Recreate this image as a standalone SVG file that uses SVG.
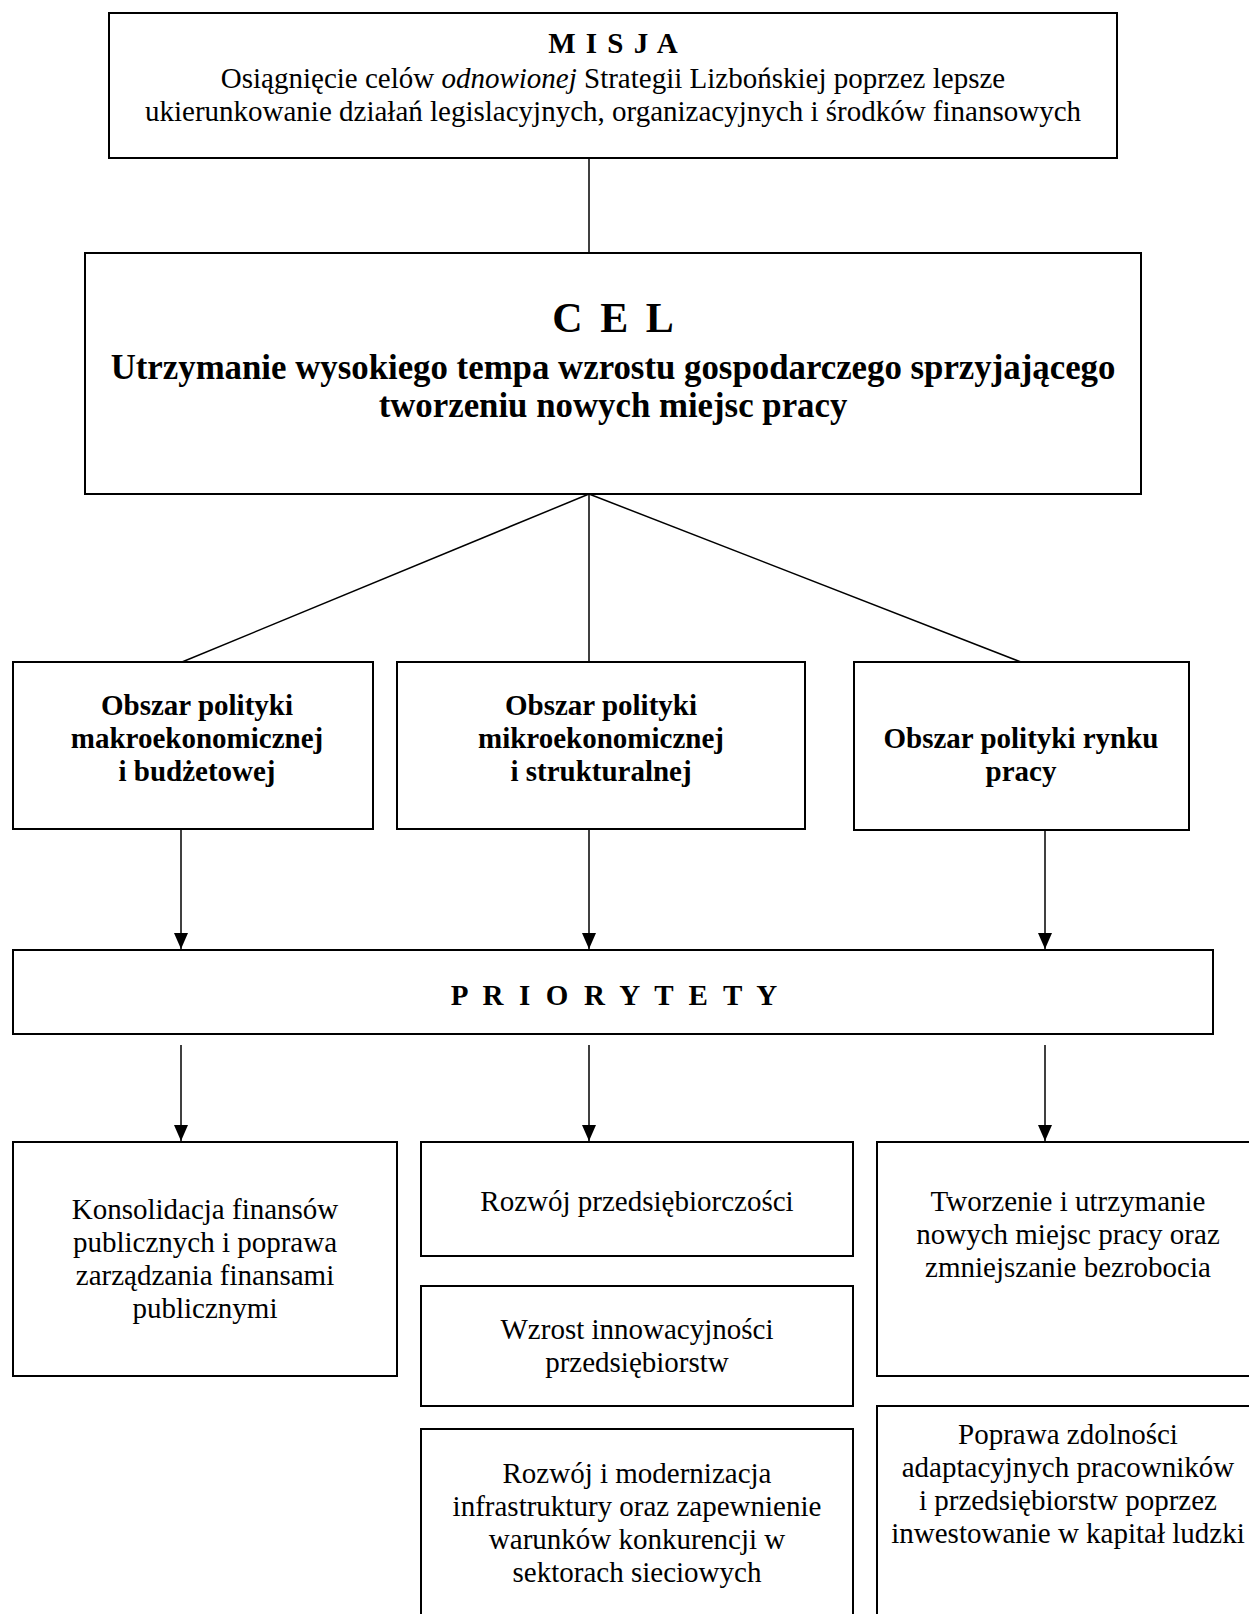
<svg xmlns="http://www.w3.org/2000/svg" width="1249" height="1614" viewBox="0 0 1249 1614">
<style>
  .box { fill: #ffffff; stroke: #000000; stroke-width: 2; }
  .line { stroke: #000000; stroke-width: 1.5; fill: none; }
  .t { font-family: "Liberation Serif", "Times New Roman", serif; font-size: 29px; fill: #000000; text-anchor: middle; }
  .b { font-weight: bold; }
  .celt { font-size: 42px; }
  .celm { font-size: 34.8px; }
</style>
<defs>
  <marker id="arrow" markerUnits="userSpaceOnUse" viewBox="0 0 16 14" markerWidth="16" markerHeight="14" refX="16" refY="7" orient="auto">
    <path d="M0,0 L16,7 L0,14 z" fill="#000000"/>
  </marker>
</defs>
<rect width="1249" height="1614" fill="#ffffff"/>

<g id="connectors">
  <line class="line" x1="589" y1="158" x2="589" y2="253"/>
  <line class="line" x1="589" y1="494" x2="182" y2="662"/>
  <line class="line" x1="589" y1="494" x2="589" y2="662"/>
  <line class="line" x1="589" y1="494" x2="1021" y2="662"/>
  <line class="line" x1="181" y1="830" x2="181" y2="949" marker-end="url(#arrow)"/>
  <line class="line" x1="589" y1="830" x2="589" y2="949" marker-end="url(#arrow)"/>
  <line class="line" x1="1045" y1="831" x2="1045" y2="949" marker-end="url(#arrow)"/>
  <line class="line" x1="181" y1="1045" x2="181" y2="1141" marker-end="url(#arrow)"/>
  <line class="line" x1="589" y1="1045" x2="589" y2="1141" marker-end="url(#arrow)"/>
  <line class="line" x1="1045" y1="1045" x2="1045" y2="1141" marker-end="url(#arrow)"/>
</g>

<g id="misja">
  <rect class="box" x="109" y="13" width="1008" height="145"/>
  <text class="t b" x="613" y="53" word-spacing="3">M I S J A</text>
  <text class="t" x="613" y="88">Osiągnięcie celów <tspan font-style="italic">odnowionej</tspan> Strategii Lizbońskiej poprzez lepsze</text>
  <text class="t" x="613" y="121">ukierunkowanie działań legislacyjnych, organizacyjnych i środków finansowych</text>
</g>

<g id="cel">
  <rect class="box" x="85" y="253" width="1056" height="241"/>
  <text class="t b celt" x="613" y="332" word-spacing="7">C E L</text>
  <text class="t b celm" x="613" y="379">Utrzymanie wysokiego tempa wzrostu gospodarczego sprzyjającego</text>
  <text class="t b celm" x="613" y="417">tworzeniu nowych miejsc pracy</text>
</g>

<g id="obszar-makro">
  <rect class="box" x="13" y="662" width="360" height="167"/>
  <text class="t b" x="197" y="715">Obszar polityki</text>
  <text class="t b" x="197" y="748">makroekonomicznej</text>
  <text class="t b" x="197" y="781">i budżetowej</text>
</g>

<g id="obszar-mikro">
  <rect class="box" x="397" y="662" width="408" height="167"/>
  <text class="t b" x="601" y="715">Obszar polityki</text>
  <text class="t b" x="601" y="748">mikroekonomicznej</text>
  <text class="t b" x="601" y="781">i strukturalnej</text>
</g>

<g id="obszar-rynek">
  <rect class="box" x="854" y="662" width="335" height="168"/>
  <text class="t b" x="1021" y="748">Obszar polityki rynku</text>
  <text class="t b" x="1021" y="781">pracy</text>
</g>

<g id="priorytety">
  <rect class="box" x="13" y="950" width="1200" height="84"/>
  <text class="t b" x="614" y="1005" word-spacing="8.3">P R I O R Y T E T Y</text>
</g>

<g id="konsolidacja">
  <rect class="box" x="13" y="1142" width="384" height="234"/>
  <text class="t" x="205" y="1219">Konsolidacja finansów</text>
  <text class="t" x="205" y="1252">publicznych i poprawa</text>
  <text class="t" x="205" y="1285">zarządzania finansami</text>
  <text class="t" x="205" y="1318">publicznymi</text>
</g>

<g id="przedsiebiorczosc">
  <rect class="box" x="421" y="1142" width="432" height="114"/>
  <text class="t" x="637" y="1211">Rozwój przedsiębiorczości</text>
</g>

<g id="innowacyjnosc">
  <rect class="box" x="421" y="1286" width="432" height="120"/>
  <text class="t" x="637" y="1339">Wzrost innowacyjności</text>
  <text class="t" x="637" y="1372">przedsiębiorstw</text>
</g>

<g id="infrastruktura">
  <rect class="box" x="421" y="1429" width="432" height="200"/>
  <text class="t" x="637" y="1483">Rozwój i modernizacja</text>
  <text class="t" x="637" y="1516">infrastruktury oraz zapewnienie</text>
  <text class="t" x="637" y="1549">warunków konkurencji w</text>
  <text class="t" x="637" y="1582">sektorach sieciowych</text>
</g>

<g id="miejsca-pracy">
  <rect class="box" x="877" y="1142" width="400" height="234"/>
  <text class="t" x="1068" y="1211">Tworzenie i utrzymanie</text>
  <text class="t" x="1068" y="1244">nowych miejsc pracy oraz</text>
  <text class="t" x="1068" y="1277">zmniejszanie bezrobocia</text>
</g>

<g id="zdolnosci">
  <rect class="box" x="877" y="1406" width="400" height="230"/>
  <text class="t" x="1068" y="1444">Poprawa zdolności</text>
  <text class="t" x="1068" y="1477">adaptacyjnych pracowników</text>
  <text class="t" x="1068" y="1510">i przedsiębiorstw poprzez</text>
  <text class="t" x="1068" y="1543">inwestowanie w kapitał ludzki</text>
</g>
</svg>
